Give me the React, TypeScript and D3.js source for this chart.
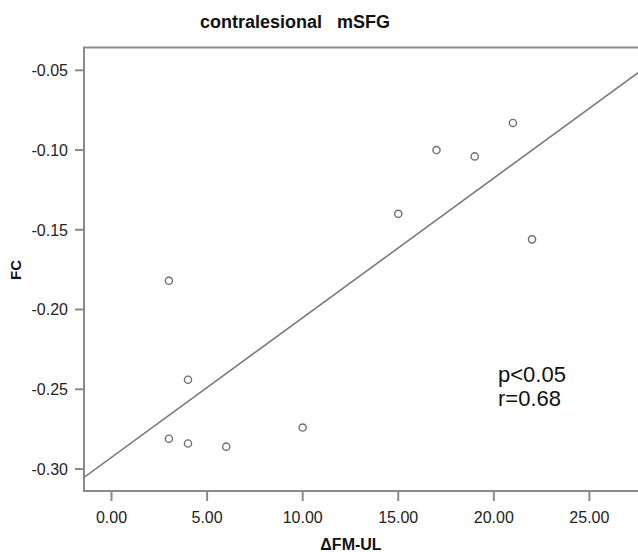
import React from 'react'
import * as d3 from 'd3'

// ΔFM-UL change vs functional connectivity, contralesional mSFG
const deltaFM = [3, 4, 3, 4, 6, 10, 15, 17, 19, 21, 22]
const fcValues = [-0.182, -0.244, -0.281, -0.284, -0.286, -0.274, -0.14, -0.1, -0.104, -0.083, -0.156]
const xTicks = [0, 5, 10, 15, 20, 25]
const yTicks = [-0.3, -0.25, -0.2, -0.15, -0.1, -0.05]

const W = 638
const H = 552
const left = 84
const top = 47.5
const bottom = 491
const right = 641

export default function App() {
  const x = d3.scaleLinear().domain([-1.44, 27.7]).range([left, right])
  const y = d3.scaleLinear().domain([-0.3138, -0.0357]).range([bottom, top])

  // least squares fit line
  const mx = d3.mean(deltaFM) as number
  const my = d3.mean(fcValues) as number
  const sxy = d3.sum(deltaFM, (v, i) => (v - mx) * (fcValues[i] - my))
  const sxx = d3.sum(deltaFM, v => (v - mx) * (v - mx))
  const slope = sxy / sxx
  const icpt = my - slope * mx
  const [x0, x1] = x.domain()
  const fitLine = d3.line<number>().x(v => x(v)).y(v => y(icpt + slope * v))([x0, x1])

  const axisColor = '#8a8a8a'
  const font = 'Liberation Sans, Arial, sans-serif'

  return (
    <svg width={W} height={H} style={{ position: 'absolute', left: 0, top: 0 }} fontFamily={font}>
      <rect width={W} height={H} fill="#fff" />
      <defs>
        <clipPath id="plot">
          <rect x={left} y={top} width={right - left} height={bottom - top} />
        </clipPath>
      </defs>

      <text x={295} y={28} textAnchor="middle" fontSize={18} fontWeight="bold" fill="#111" style={{ whiteSpace: 'pre' }}>
        contralesional   mSFG
      </text>

      <path d={fitLine ?? ''} stroke="#7a7a7a" strokeWidth={1.6} fill="none" clipPath="url(#plot)" />

      {deltaFM.map((v, i) => (
        <circle key={i} cx={x(v)} cy={y(fcValues[i])} r={3.6} fill="none" stroke="#6e6e6e" strokeWidth={1.4} />
      ))}

      {/* frame */}
      <path d={`M${right},${top}H${left}V${bottom}H${right}`} fill="none" stroke={axisColor} strokeWidth={2} />

      {yTicks.map(t => (
        <g key={t}>
          <line x1={left - 9} x2={left} y1={y(t)} y2={y(t)} stroke={axisColor} strokeWidth={2} />
          <text x={68} y={y(t)} dy="0.36em" textAnchor="end" fontSize={16} fill="#222">
            {t.toFixed(2)}
          </text>
        </g>
      ))}

      {xTicks.map(t => (
        <g key={t}>
          <line x1={x(t)} x2={x(t)} y1={bottom} y2={bottom + 10} stroke={axisColor} strokeWidth={2} />
          <text x={x(t)} y={523} textAnchor="middle" fontSize={16} fill="#222">
            {t.toFixed(2)}
          </text>
        </g>
      ))}

      <text transform="translate(21,270) rotate(-90)" textAnchor="middle" fontSize={15} fontWeight="bold" fill="#111">
        FC
      </text>
      <text x={351} y={550} textAnchor="middle" fontSize={16} fontWeight="bold" fill="#111">
        ΔFM-UL
      </text>

      <text x={498} y={382} fontSize={22} fill="#111">p&lt;0.05</text>
      <text x={498} y={406} fontSize={22} fill="#111">r=0.68</text>
    </svg>
  )
}
